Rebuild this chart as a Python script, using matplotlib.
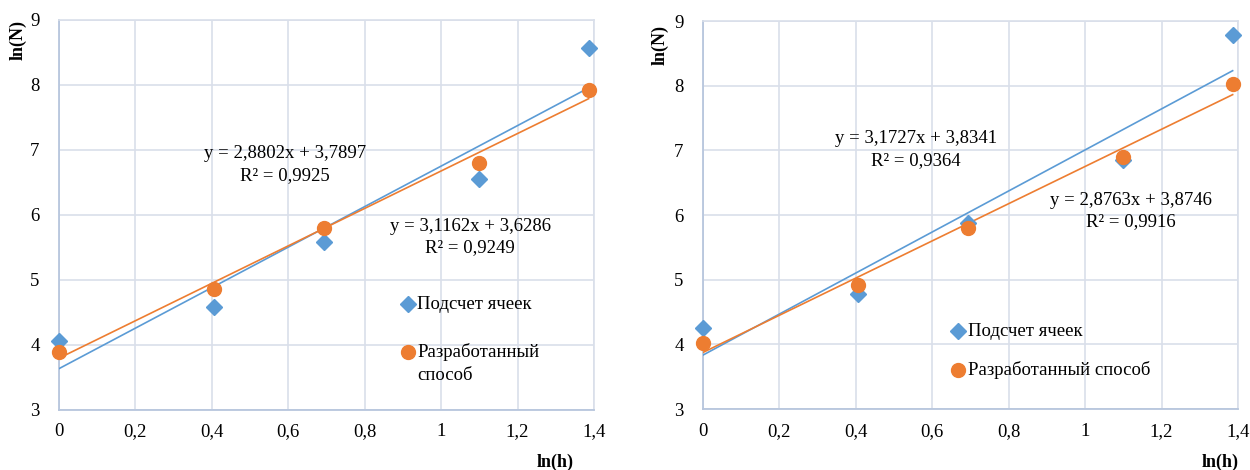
import numpy as np
import matplotlib
matplotlib.use('Agg')
from matplotlib import pyplot as plt

plt.rcParams['font.family'] = ['Liberation Serif', 'DejaVu Serif']

# ln(h) values
x = [0.0, 0.405, 0.693, 1.099, 1.386]

# left chart
left_cells = [4.05, 4.57, 5.57, 6.54, 8.56]
left_method = [3.88, 4.85, 5.80, 6.80, 7.92]
left_fit_cells = [3.1162, 3.6286]
left_fit_method = [2.8802, 3.7897]
left_eq_cells = 'y = 3,1162x + 3,6286\nR² = 0,9249'
left_eq_method = 'y = 2,8802x + 3,7897\nR² = 0,9925'

# right chart
right_cells = [4.25, 4.78, 5.87, 6.85, 8.78]
right_method = [4.02, 4.92, 5.80, 6.90, 8.02]
right_fit_cells = [3.1727, 3.8341]
right_fit_method = [2.8763, 3.8746]
right_eq_cells = 'y = 3,1727x + 3,8341\nR² = 0,9364'
right_eq_method = 'y = 2,8763x + 3,8746\nR² = 0,9916'

x_ticks = [0, 0.2, 0.4, 0.6, 0.8, 1.0, 1.2, 1.4]
x_tick_labels = ['0', '0,2', '0,4', '0,6', '0,8', '1', '1,2', '1,4']
y_ticks = [3, 4, 5, 6, 7, 8, 9]

BLUE = '#5B9BD5'
ORANGE = '#ED7D31'
GRID = '#D9DFEA'
SPINE = '#B7C6DD'
FS = 13.5

W, H = 1250, 470


def legend_item(ax, pos, marker, color, ms, label):
    # hand-made legend entry: marker + text to the right, first line aligned
    ax.plot([pos[0]], [pos[1]], marker, color=color, ms=ms,
            transform=ax.transAxes, clip_on=False, zorder=6)
    ax.text(pos[0] + 0.018, pos[1], label.split('\n')[0], va='center',
            ha='left', fontsize=FS, transform=ax.transAxes)
    if '\n' in label:
        ax.text(pos[0] + 0.018, pos[1] - 0.059, label.split('\n')[1],
                va='center', ha='left', fontsize=FS, transform=ax.transAxes)


def draw(ax, cells, method, fit_cells, fit_method, eq_cells, eq_method,
         eq_cells_pos, eq_method_pos, method_label, leg_cells, leg_method):
    xs = np.array([x[0], x[-1]])
    ax.plot(xs, fit_cells[0] * xs + fit_cells[1], color=BLUE, lw=1.2, zorder=3)
    ax.plot(xs, fit_method[0] * xs + fit_method[1], color=ORANGE, lw=1.2, zorder=3)
    ax.plot(x, cells, 'D', color=BLUE, ms=8, ls='none', zorder=4, clip_on=False)
    ax.plot(x, method, 'o', color=ORANGE, ms=10, ls='none', zorder=5, clip_on=False)

    ax.text(*eq_method_pos, eq_method, ha='center', va='center',
            fontsize=FS, linespacing=1.35, zorder=6)
    ax.text(*eq_cells_pos, eq_cells, ha='center', va='center',
            fontsize=FS, linespacing=1.35, zorder=6)

    ax.set_xlim(0, 1.4)
    ax.set_ylim(3, 9)
    ax.set_xticks(x_ticks)
    ax.set_xticklabels(x_tick_labels)
    ax.set_yticks(y_ticks)
    ax.tick_params(length=0, labelsize=FS, pad=10)
    ax.tick_params(axis='y', pad=14)
    ax.grid(True, color=GRID, lw=1.2)
    ax.set_axisbelow(True)
    for side in ['top', 'right']:
        ax.spines[side].set_color(GRID)
        ax.spines[side].set_linewidth(1.2)
    for side in ['left', 'bottom']:
        ax.spines[side].set_color(SPINE)
        ax.spines[side].set_linewidth(1.3)

    legend_item(ax, leg_cells, 'D', BLUE, 8, 'Подсчет ячеек')
    legend_item(ax, leg_method, 'o', ORANGE, 10, method_label)


fig = plt.figure(figsize=(W / 100, H / 100), dpi=100)
ax1 = fig.add_axes([59 / W, 1 - 409.5 / H, 535 / W, 390 / H])
ax2 = fig.add_axes([703 / W, 1 - 409 / H, 535 / W, 388 / H])

draw(ax1, left_cells, left_method, left_fit_cells, left_fit_method,
     left_eq_cells, left_eq_method, (1.076, 5.65), (0.592, 6.77),
     'Разработанный\nспособ', (0.652, 0.2705), (0.652, 0.147))
draw(ax2, right_cells, right_method, right_fit_cells, right_fit_method,
     right_eq_cells, right_eq_method, (0.558, 7.01), (1.120, 6.06),
     'Разработанный способ', (0.4766, 0.201), (0.4766, 0.1005))

fig.text(18 / W, 1 - 40 / H, 'ln(N)', rotation=90, ha='center', va='center',
         fontsize=13, fontweight='bold')
fig.text(660 / W, 1 - 45 / H, 'ln(N)', rotation=90, ha='center', va='center',
         fontsize=13, fontweight='bold')
fig.text(555 / W, 1 - 462 / H, 'ln(h)', ha='center', va='center',
         fontsize=13, fontweight='bold')
fig.text(1220 / W, 1 - 462 / H, 'ln(h)', ha='center', va='center',
         fontsize=13, fontweight='bold')

fig.savefig('out.png', dpi=100, facecolor='white')
